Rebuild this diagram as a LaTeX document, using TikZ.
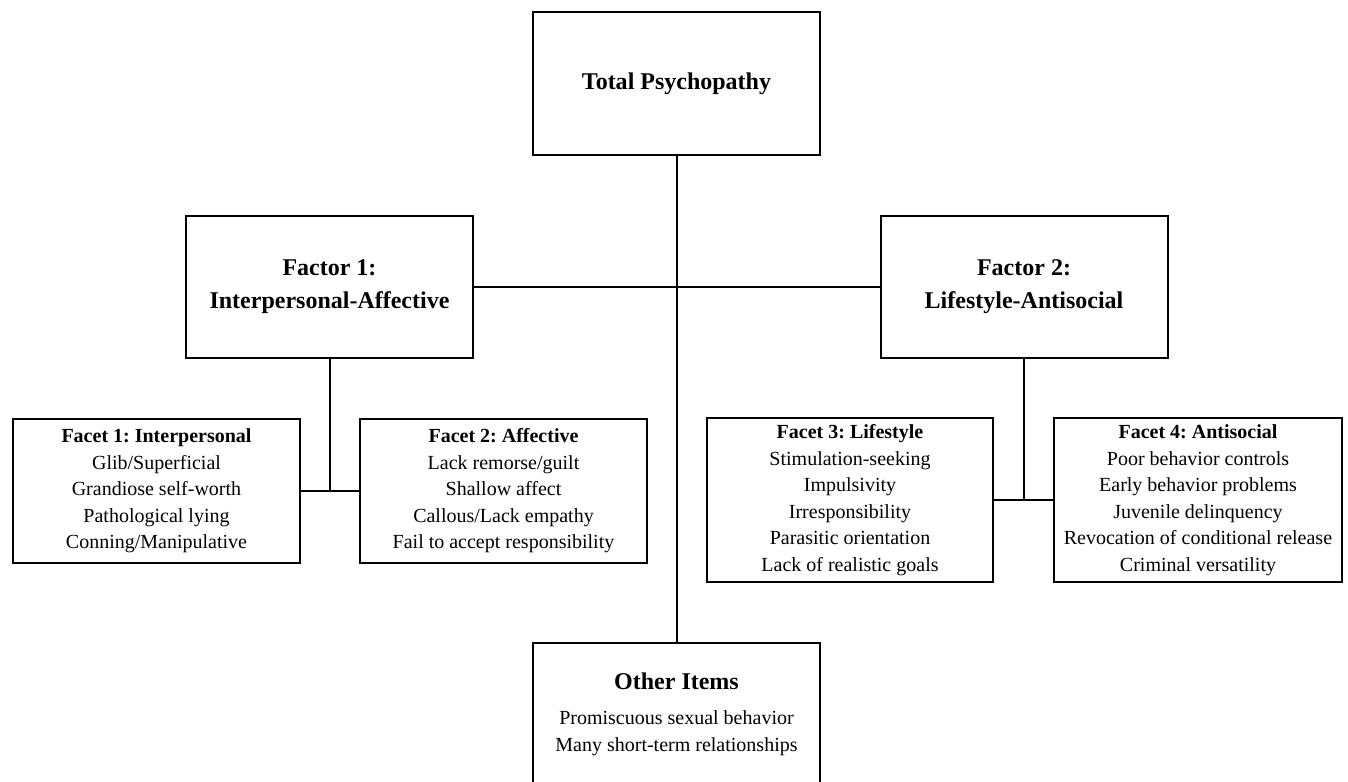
\documentclass[tikz,border=0pt]{standalone}
\usepackage{fontspec}
\setmainfont{Liberation Serif}
\frenchspacing

\begin{document}
\begin{tikzpicture}[
	  x=0.5pt, y=-0.5pt,
	  %style for connectors
	  ln/.style={line width=1pt},
      % style for the big boxes
      bg/.style={rectangle, draw=black, line width=1pt, align=center,
        minimum width=143.5pt, minimum height=71pt,
        font=\bfseries\fontsize{12}{16.5}\selectfont},
      % style for the facet boxes
      fc/.style={rectangle, draw=black, line width=1pt, align=center,
        minimum width=143.5pt, font=\fontsize{10}{13.25}\selectfont}]

      \clip (0,0) rectangle (1348,781);

      \node[bg, minimum height=71.5pt](total) at (676.5,83.5){Total Psychopathy};
      \node[bg](fone) at (329.5,287){Factor 1:\\Interpersonal-Affective};
      \node[bg](ftwo) at (1024,287){Factor 2:\\Lifestyle-Antisocial};

      \node[fc, minimum height=72pt](facetone) at (156.5,491){\textbf{Facet 1: Interpersonal}\\Glib/Superficial\\Grandiose self-worth\\Pathological lying\\Conning/Manipulative};
      \node[fc, minimum height=72pt](facettwo) at (503.5,491){\textbf{Facet 2: Affective}\\Lack remorse/guilt\\Shallow affect\\Callous/Lack empathy\\Fail to accept responsibility};
      \node[fc, minimum width=143pt, minimum height=81pt](facetthree) at (850,500){\textbf{Facet 3: Lifestyle}\\Stimulation-seeking\\Impulsivity\\Irresponsibility\\Parasitic orientation\\Lack of realistic goals};
      \node[fc, minimum width=144pt, minimum height=81pt](facetfour) at (1198,500){\textbf{Facet 4: Antisocial}\\Poor behavior controls\\Early behavior problems\\Juvenile delinquency\\Revocation of conditional release\\Criminal versatility};

      % box runs off the bottom edge
      \node[fc, anchor=north, minimum height=90pt](other) at (676.5,642){};
      \node[align=center, font=\fontsize{10}{13.5}\selectfont](othertxt) at (676.5,714){{\bfseries\fontsize{12}{14}\selectfont Other Items}\\[4pt]Promiscuous sexual behavior\\Many short-term relationships};

      \draw[ln] (total.south) -- (other.north);
      \draw[ln] (fone.east) -- (ftwo.west);
      \draw[ln] (facetone.east) -- (facettwo.west);
      \draw[ln] (fone.south) -- (fone.south |- facetone.east);
      \draw[ln] (facetthree.east) -- (facetfour.west);
      \draw[ln] (ftwo.south) -- (ftwo.south |- facetthree.east);

\end{tikzpicture}
\end{document}
